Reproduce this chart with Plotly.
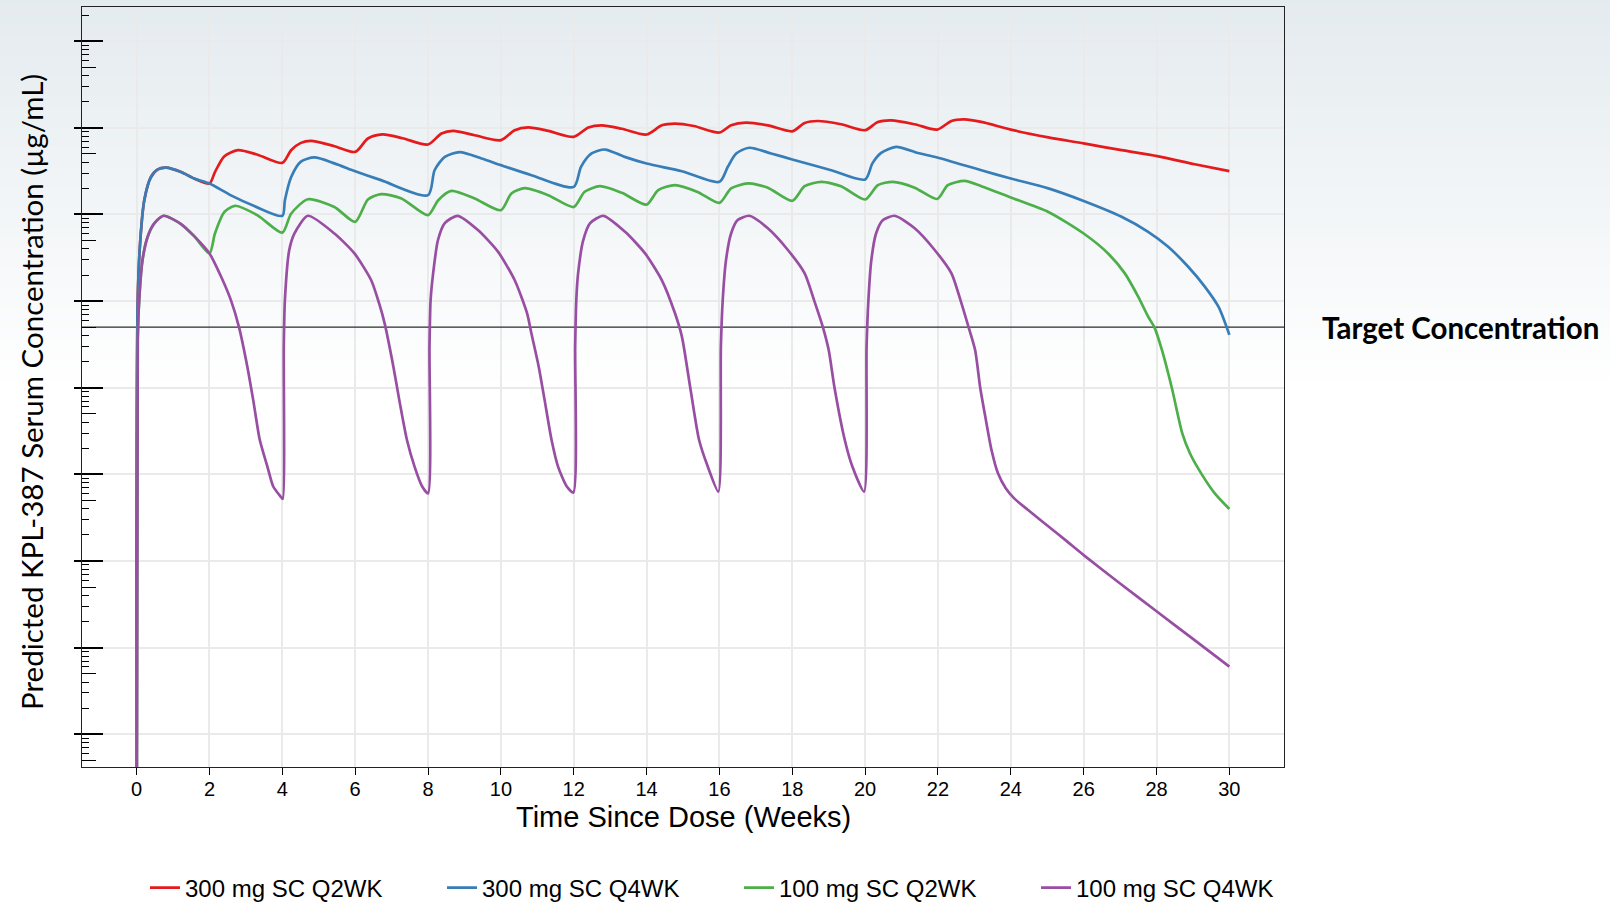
import math
import plotly.graph_objects as go

# ---------------- data ----------------
series_names = ["300 mg SC Q2WK", "300 mg SC Q4WK", "100 mg SC Q2WK", "100 mg SC Q4WK"]
series_colors = ["#E41A1C", "#377EB8", "#4DAF4A", "#984EA3"]

weeks_300_q2wk = [0, 0.03, 0.1, 0.21, 0.39, 0.58, 0.81, 1.22, 1.58, 2.0, 2.15, 2.41, 2.78, 3.32, 4.0,
                  4.24, 4.51, 4.79, 5.43, 6.0, 6.35, 6.75, 7.3, 8.0, 8.37, 8.69, 9.28, 10.0, 10.38,
                  10.75, 11.3, 12.0, 12.4, 12.77, 13.32, 14.0, 14.42, 14.78, 15.3, 16.0, 16.32, 16.73,
                  17.33, 18.0, 18.34, 18.7, 19.34, 20.0, 20.35, 20.72, 21.36, 21.98, 22.37, 22.73,
                  23.19, 24.0, 25.03, 26.0, 27.04, 28.02, 29.05, 30.0]
conc_300_q2wk = [1e-7, 1.02, 5.01, 14.6, 26.9, 33.1, 34.7, 30.9, 26.0, 22.8, 30.9, 47.1, 55.2, 49.0, 39.4,
                 55.2, 67.1, 70.8, 61.4, 52.8, 75.3, 84.1, 75.9, 64.3, 86.1, 92.3, 82.2, 72.1, 94.0,
                 101, 92.3, 78.7, 101, 107, 97.7, 83.8, 107, 112, 105, 88.3, 107, 115,
                 107, 91.2, 114, 120, 110, 94.0, 117, 122, 110, 95.5, 120, 125,
                 117, 95.5, 77.6, 66.1, 55.2, 47.1, 38.0, 31.6]

weeks_300_q4wk = [0, 0.03, 0.1, 0.21, 0.39, 0.58, 0.81, 1.22, 1.58, 2.0, 2.59, 3.23, 4.0, 4.07, 4.24,
                  4.51, 4.88, 5.43, 6.0, 6.71, 8.0, 8.18, 8.46, 8.87, 9.47, 10.0, 10.84, 12.0, 12.2,
                  12.49, 12.86, 13.4, 14.0, 14.97, 16.0, 16.23, 16.46, 16.82, 17.42, 18.0, 19.07, 20.0,
                  20.2, 20.44, 20.85, 21.45, 21.98, 23.19, 24.0, 25.03, 26.0, 27.04, 27.77, 28.32,
                  28.87, 29.33, 29.7, 30.0]
conc_300_q4wk = [1e-7, 1.02, 5.01, 14.6, 26.9, 33.1, 34.7, 30.9, 26.0, 22.8, 16.6, 12.5, 9.66, 14.6, 26.9,
                 40.7, 45.5, 38.9, 31.6, 24.9, 16.7, 32.4, 46.2, 52.5, 44.3, 37.1, 28.4, 20.8, 35.5,
                 50.6, 56.2, 46.2, 38.7, 31.6, 23.8, 35.5, 50.6, 58.9, 50.6, 43.2, 32.4, 25.4,
                 38.9, 51.3, 60.3, 51.3, 45.5, 32.4, 26.0, 20.0, 14.3, 9.40, 6.31, 4.24,
                 2.49, 1.46, 0.861, 0.407]

weeks_100_q2wk = [0, 0.03, 0.07, 0.16, 0.30, 0.49, 0.74, 1.22, 1.58, 2.0, 2.15, 2.41, 2.70, 3.32, 4.0,
                  4.24, 4.70, 5.43, 6.0, 6.35, 6.71, 7.27, 8.0, 8.28, 8.64, 9.28, 10.0, 10.29, 10.66,
                  11.3, 12.0, 12.3, 12.72, 13.32, 14.0, 14.32, 14.78, 15.4, 16.0, 16.32, 16.78, 17.33,
                  18.0, 18.34, 18.8, 19.34, 20.0, 20.35, 20.76, 21.36, 21.98, 22.27, 22.73, 23.19,
                  24.0, 25.03, 26.0, 26.67, 27.13, 27.5, 27.77, 27.94, 28.15, 28.42, 28.71, 28.92,
                  29.23, 29.6, 30.0]
conc_100_q2wk = [1e-7, 0.355, 1.02, 2.95, 5.50, 7.94, 9.66, 7.76, 5.62, 3.55, 6.03, 10.7, 12.6, 9.77, 6.17,
                 10.2, 15.0, 12.2, 8.22, 14.9, 17.2, 15.3, 9.82, 14.6, 18.7, 15.3, 11.2, 17.5, 20.1,
                 16.7, 12.2, 18.3, 21.2, 17.8, 13.0, 19.1, 21.8, 18.2, 13.6, 20.0, 22.8, 20.4,
                 14.4, 21.2, 23.8, 21.2, 14.9, 21.8, 23.8, 20.4, 15.1, 21.8, 24.4, 21.2,
                 15.7, 10.7, 6.03, 3.55, 2.09, 1.12, 0.661, 0.501, 0.272, 0.1, 0.0295, 0.0174,
                 0.0102, 0.00603, 0.00398]

weeks_100_q4wk = [0, 0.03, 0.07, 0.16, 0.30, 0.49, 0.74, 1.22, 1.58, 2.0, 2.32, 2.59, 2.81, 3.04, 3.2,
                  3.38, 3.59, 3.75, 3.96, 4.01, 4.04, 4.07, 4.19, 4.33, 4.70, 5.43, 5.98, 6.44, 6.66,
                  6.81, 7.05, 7.21, 7.42, 7.63, 7.84, 8.0, 8.04, 8.07, 8.14, 8.27, 8.46, 8.81, 9.37,
                  9.92, 10.38, 10.72, 10.84, 11.04, 11.2, 11.39, 11.57, 11.81, 11.99, 12.04, 12.07,
                  12.12, 12.26, 12.45, 12.81, 13.41, 13.96, 14.42, 14.78, 14.97, 15.2, 15.44, 15.68,
                  15.97, 16.04, 16.09, 16.18, 16.32, 16.5, 16.82, 17.33, 17.88, 18.34, 18.6, 18.84,
                  19.0, 19.16, 19.44, 19.65, 19.97, 20.04, 20.09, 20.17, 20.3, 20.49, 20.81, 21.36,
                  21.91, 22.37, 22.62, 22.84, 23.02, 23.16, 23.3, 23.47, 23.65, 23.86, 24.1, 24.5,
                  25.0, 25.5, 26.0, 27.0, 28.0, 29.0, 30.0]
conc_100_q4wk = [1e-7, 0.355, 1.02, 2.95, 5.50, 7.94, 9.66, 7.76, 5.62, 3.55, 1.91, 1.02, 0.501, 0.174, 0.0724,
                 0.0251, 0.0123, 0.00724, 0.0055, 0.0052, 0.3, 1.02, 3.89, 6.03, 9.66, 6.03, 3.55, 1.74, 0.933,
                 0.550, 0.174, 0.0724, 0.0251, 0.0123, 0.00724, 0.00603, 0.3, 1.02, 2.09, 5.01, 7.94, 9.66, 6.61,
                 3.72, 1.74, 0.724, 0.420, 0.174, 0.0724, 0.0251, 0.0123, 0.00724, 0.00617, 0.3, 1.02,
                 2.09, 5.01, 7.94, 9.66, 6.31, 3.55, 1.74, 0.724, 0.389, 0.1, 0.0251, 0.0123,
                 0.00631, 0.3, 1.02, 2.95, 6.03, 8.61, 9.66, 6.92, 3.89, 2.09, 1.02, 0.501,
                 0.272, 0.1, 0.0251, 0.0123, 0.00631, 0.3, 1.02, 2.95, 6.03, 8.61, 9.66, 6.92,
                 3.89, 2.09, 1.02, 0.501, 0.272, 0.1, 0.0462, 0.0191, 0.0102, 0.00692, 0.00525, 0.0038,
                 0.00257, 0.00174, 0.00117, 0.00055, 0.000263, 0.000126, 0.0000603]

target_concentration = 0.5
x_tick_values = list(range(0, 31, 2))
x_range = [-1.5, 31.5]
y_log_range = [-5.378, 3.395]
decades = [-5, -4, -3, -2, -1, 0, 1, 2, 3]

all_weeks = [weeks_300_q2wk, weeks_300_q4wk, weeks_100_q2wk, weeks_100_q4wk]
all_conc = [conc_300_q2wk, conc_300_q4wk, conc_100_q2wk, conc_100_q4wk]
line_smoothing = [0.75, 0.75, 0.7, 0.65]

# ---------------- figure ----------------
W, H = 1610, 904
ML, MR, MT, MB = 82, 326, 7, 137
PW, PH = W - ML - MR, H - MT - MB

fig = go.Figure()

# target line
fig.add_trace(go.Scatter(x=x_range, y=[target_concentration, target_concentration], mode="lines",
                         line=dict(color="#2b2b2b", width=1.3), showlegend=False, hoverinfo="skip"))

for name, col, xs, ys, sm in zip(series_names, series_colors, all_weeks, all_conc, line_smoothing):
    fig.add_trace(go.Scatter(x=xs, y=ys, mode="lines", name=name,
                             line=dict(color=col, width=2.7, shape="spline", smoothing=sm)))

# dummy trace so the overlay tick axis is drawn
fig.add_trace(go.Scatter(x=[None], y=[None], yaxis="y2", showlegend=False, hoverinfo="skip"))

major_vals = [10 ** d for d in decades]
mid_vals = [5 * 10 ** d for d in range(-6, 4) if y_log_range[0] <= math.log10(5 * 10 ** d) <= y_log_range[1]]
short_vals = []
for d in range(-6, 4):
    for m in (2, 3, 4, 6, 7, 8, 9):
        v = m * 10 ** d
        if y_log_range[0] <= math.log10(v) <= y_log_range[1]:
            short_vals.append(v)

# background gradient (top tinted -> white)
y_top = (H - MB) / PH + 0.02
y_end = (H - 390 - MB) / PH
n = 40
c0 = (227, 234, 238)
for i in range(n):
    t0 = i / n
    t1 = (i + 1) / n
    tm = (t0 + t1) / 2
    col = tuple(round(c0[k] + (255 - c0[k]) * tm) for k in range(3))
    fig.add_shape(type="rect", xref="paper", yref="paper", layer="below",
                  x0=-ML / PW - 0.01, x1=(W - ML) / PW + 0.01,
                  y0=y_top - (y_top - y_end) * t1 - 0.001, y1=y_top - (y_top - y_end) * t0,
                  fillcolor="rgb(%d,%d,%d)" % col, line=dict(width=0))

grid_col = "#EAEAEA"
fig.update_layout(
    width=W, height=H,
    margin=dict(l=ML, r=MR, t=MT, b=MB, autoexpand=False),
    paper_bgcolor="white", plot_bgcolor="rgba(0,0,0,0)",
    xaxis=dict(range=x_range, tickvals=x_tick_values, ticks="outside", ticklen=7, tickwidth=1.3,
               tickcolor="black", showgrid=True, gridcolor=grid_col, gridwidth=1.6, zeroline=False,
               showline=True, linecolor="#222", linewidth=1.4, mirror=True, ticklabelstandoff=-3,
               tickfont=dict(family="Liberation Sans, Arial", size=20, color="black")),
    yaxis=dict(type="log", range=y_log_range, tickvals=major_vals, ticks="outside", ticklen=7,
               tickwidth=1.8, tickcolor="black", showticklabels=False, showgrid=True,
               gridcolor=grid_col, gridwidth=1.6, zeroline=False, showline=True, linecolor="#222",
               linewidth=1.4, mirror=True,
               minor=dict(tickvals=short_vals, ticks="inside", ticklen=7, tickwidth=1.3,
                          tickcolor="black", showgrid=False)),
    yaxis2=dict(type="log", range=y_log_range, overlaying="y", side="left", anchor="x",
                tickvals=major_vals, ticks="inside", ticklen=21, tickwidth=1.8, tickcolor="black",
                showticklabels=False, showgrid=False, zeroline=False, showline=False,
                minor=dict(tickvals=mid_vals, ticks="inside", ticklen=14, tickwidth=1.3,
                           tickcolor="black", showgrid=False)),
    legend=dict(orientation="h", x=(145 - ML) / PW, xanchor="left", y=-121 / PH, yanchor="middle",
                entrywidth=252, entrywidthmode="pixels", bgcolor="rgba(0,0,0,0)",
                font=dict(family="Liberation Sans, Arial", size=24, color="black")),
    showlegend=True,
)

fig.add_annotation(text="Predicted KPL-387 Serum Concentration (µg/mL)", xref="paper", yref="paper",
                   x=(31 - ML) / PW, y=(H - 392 - MB) / PH, textangle=-90, showarrow=False,
                   xanchor="center", yanchor="middle",
                   font=dict(family="Lato, Open Sans", size=29.5, color="black"))
fig.add_annotation(text="Time Since Dose (Weeks)", xref="paper", yref="paper",
                   x=0.5, y=-(817 - (H - MB)) / PH, showarrow=False, xanchor="center", yanchor="middle",
                   font=dict(family="Liberation Sans, Arial", size=29, color="black"))
fig.add_annotation(text="Target Concentration", xref="paper", yref="y",
                   x=(1320 - ML) / PW, y=math.log10(target_concentration), showarrow=False,
                   xanchor="left", yanchor="middle",
                   font=dict(family="Lato, Open Sans", size=29.5, color="black", weight=700))

fig.write_html("out.html", config={"displayModeBar": False},
               post_script="document.body.style.margin='0';document.body.style.padding='0';")
